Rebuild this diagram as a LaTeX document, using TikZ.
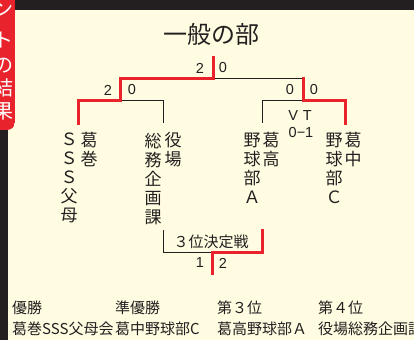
\documentclass[tikz,border=0pt]{standalone}
\usepackage{fontspec}
\setmainfont{Noto Sans CJK JP}
\newfontfamily\digfont{Liberation Sans}
\definecolor{cream}{HTML}{FFFCE1}
\definecolor{ink}{HTML}{231F20}
\definecolor{rd}{HTML}{E8232B}
\begin{document}
\begin{tikzpicture}[x=1pt,y=-1pt,
  win/.style={draw=rd, line width=3pt, line cap=rect, line join=miter},
  lose/.style={draw=ink, line width=0.9pt},
  col/.style={font=\fontsize{17}{19}\selectfont, align=center, inner sep=0pt, anchor=north, text=ink},
  score/.style={font=\digfont\fontsize{14.5}{14.5}\selectfont, inner sep=0pt, text=ink},
  lbl/.style={font=\fontsize{15}{15}\selectfont, inner sep=0pt, anchor=base west, text=ink},
  tabch/.style={font=\fontsize{20}{20}\selectfont, inner sep=0pt, text=white}]
\useasboundingbox (0,0) rectangle (414,340);
\clip (0,0) rectangle (414,340);
\fill[cream] (0,0) rectangle (414,340);
\fill[ink] (0,0) rectangle (414,9.5);
\fill[ink] (0,0) rectangle (8,340);
\begin{scope}
  \clip[rounded corners=8pt] (-10,-10) rectangle (15,130);
  \fill[rd] (-10,-10) rectangle (15,130);
  \node[tabch] (k1) at (4,9) {ン};
  \node[tabch] (k2) at (4,40) {ト};
  \node[tabch] (k3) at (4,66) {の};
  \node[tabch] (k4) at (4,88) {結};
  \node[tabch] (k5) at (4,111) {果};
\end{scope}
% title
\node[font=\fontsize{24}{24}\selectfont, inner sep=0pt, text=ink] (title) at (211,34) {一般の部};
% team labels
\node[col] (t1a) at (89,132.5) {葛\\巻};
\node[col] (t1b) at (69,132.5) {Ｓ\\Ｓ\\Ｓ\\父\\母};
\node[col] (t2a) at (173,132.5) {役\\場};
\node[col] (t2b) at (153,132.5) {総\\務\\企\\画\\課};
\node[col] (t3a) at (271,132.5) {葛\\高};
\node[col] (t3b) at (252,132.5) {野\\球\\部\\Ａ};
\node[col] (t4a) at (353,132.5) {葛\\中};
\node[col] (t4b) at (334,132.5) {野\\球\\部\\Ｃ};
% bracket points
\coordinate (p1) at (78,123);
\coordinate (p2) at (163,123);
\coordinate (p3) at (262,123);
\coordinate (p4) at (345,123);
\coordinate (s1) at (78,100);
\coordinate (s1m) at (120,100);
\coordinate (s2) at (163,100);
\coordinate (s3) at (262,100);
\coordinate (s2m) at (303,100);
\coordinate (s4) at (345,100);
\coordinate (f1) at (120,78);
\coordinate (fm) at (213,78);
\coordinate (f2) at (303,78);
\coordinate (champ) at (213,57);
\coordinate (q1) at (163,230);
\coordinate (q2) at (262,230);
\coordinate (r1) at (163,252);
\coordinate (rm) at (212,252);
\coordinate (r2) at (262,252);
\coordinate (thirdw) at (212,273);
% losing lines
\draw[lose] (s1m) -- (s2) -- (p2);
\draw[lose] (fm) -- (f2);
\draw[lose] (s2m) -- (s3) -- (p3);
\draw[lose] (q1) -- (r1) -- (rm);
% winning lines
\draw[win] (p1) -- (s1) -- (s1m) -- (f1) -- (fm) -- (champ);
\draw[win] (p4) -- (s4) -- (s2m) -- (f2);
\draw[win] (q2) -- (r2) -- (rm) -- (thirdw);
% scores
\node[score] (sf1) at (200,68) {2};
\node[score] (sf2) at (223,68) {0};
\node[score] (sa1) at (108,90) {2};
\node[score] (sa2) at (132,90) {0};
\node[score] (sb1) at (290,90) {0};
\node[score] (sb2) at (314,90) {0};
\node[score] (vt) at (300,116) {V\,\,T};
\node[score] (vts) at (301,133) {0−1};
\node[score] (sc1) at (200,263) {1};
\node[score] (sc2) at (223,263) {2};
\node[font=\fontsize{15}{15}\selectfont, inner sep=0pt, text=ink] (third) at (211,242) {３位決定戦};
% results
\node[lbl] (w1) at (12,313) {優勝};
\node[lbl] (w2) at (115,313) {準優勝};
\node[lbl] (w3) at (217,313) {第３位};
\node[lbl] (w4) at (318,313) {第４位};
\node[lbl] (n1) at (12,334) {葛巻SSS父母会};
\node[lbl] (n2) at (115,334) {葛中野球部C};
\node[lbl] (n3) at (217,334) {葛高野球部Ａ};
\node[lbl] (n4) at (318,334) {役場総務企画課};
\end{tikzpicture}
\end{document}
